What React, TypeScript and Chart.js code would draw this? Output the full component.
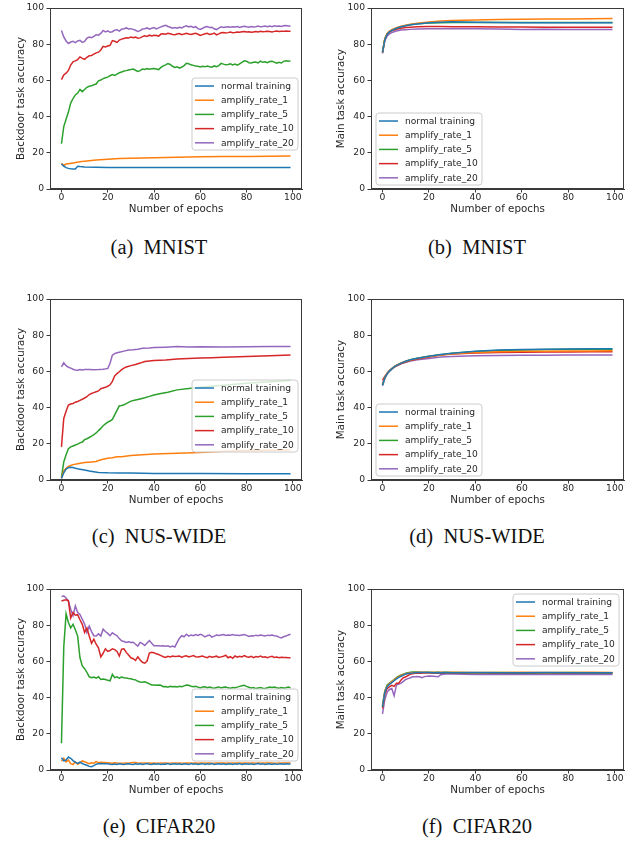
import React, { useEffect, useRef } from 'react';
import { Chart, registerables } from 'chart.js';
Chart.register(...registerables);

// ---------- shared ----------
const LABELS = ['normal training', 'amplify_rate_1', 'amplify_rate_5', 'amplify_rate_10', 'amplify_rate_20'];
const COLORS = ['#1f77b4', '#ff7f0e', '#2ca02c', '#d62728', '#9467bd'];
const X_TICKS = [0, 20, 40, 60, 80, 100];
const Y_TICKS = [0, 20, 40, 60, 80, 100];

const EP_ALL = [0,1,2,3,4,5,6,7,8,9,10,11,12,13,14,15,16,17,18,19,20,21,22,23,24,25,26,27,28,29,30,31,32,33,34,35,36,37,38,39,40,41,42,43,44,45,46,47,48,49,50,51,52,53,54,55,56,57,58,59,60,61,62,63,64,65,66,67,68,69,70,71,72,73,74,75,76,77,78,79,80,81,82,83,84,85,86,87,88,89,90,91,92,93,94,95,96,97,98,99];
const EP_SMOOTH = [0,1,2,3,4,5,6,8,10,12,15,20,25,30,40,50,60,70,80,90,99];

// ---------- (a) MNIST backdoor ----------
const EP_A_NORMAL = [0,1,2,3,4,5,6,7,8,10,15,20,40,60,80,99];
const A_NORMAL = [14.0,12.6,11.8,11.4,11.2,11.1,11.0,12.6,12.4,12.2,12.0,11.9,11.9,11.9,11.9,11.9];
const EP_A_RATE1 = [0,1,2,3,5,8,10,15,20,25,30,40,50,60,70,80,90,99];
const A_RATE1 = [14.2,13.0,13.8,14.0,14.4,15.0,15.4,16.0,16.5,16.8,17.0,17.3,17.6,17.8,17.9,18.0,18.1,18.3];
const A_RATE5 = [
  25.0,34.5,38.5,42.5,47.5,50.0,52.0,53.0,55.0,53.8,
  55.0,56.2,56.8,57.0,57.6,58.0,59.8,60.2,61.0,61.5,
  61.8,62.6,63.2,62.8,63.5,64.2,64.6,65.2,65.4,65.8,
  66.0,66.3,65.6,65.0,65.4,66.3,66.0,66.5,66.2,66.4,
  66.6,66.3,66.0,67.2,68.0,68.6,69.3,68.8,67.8,67.2,
  67.5,66.8,67.4,68.2,69.5,69.2,68.6,68.3,68.0,67.8,
  67.4,67.8,67.5,68.0,67.6,67.3,68.0,67.6,68.2,69.4,
  69.0,68.6,68.8,69.2,68.5,69.0,68.4,69.2,70.0,70.8,
  70.6,69.8,69.6,70.0,70.2,69.7,70.6,70.0,70.3,69.8,
  70.4,70.6,70.1,69.5,70.0,69.6,70.5,70.9,70.6,70.8];
const A_RATE10 = [
  60.4,63.0,64.0,65.5,68.5,70.3,70.8,71.5,73.0,72.2,
  71.6,72.8,73.6,73.8,74.5,75.2,75.6,76.8,78.8,78.5,
  79.0,79.4,82.0,81.6,81.0,82.3,82.8,83.2,83.6,83.4,
  84.0,83.6,83.9,83.3,83.5,84.2,84.6,84.3,85.0,84.6,
  85.0,84.8,84.5,85.6,85.8,85.5,86.0,85.8,85.4,85.2,
  85.6,85.9,85.3,85.7,86.0,85.6,85.4,85.8,86.1,85.5,
  84.8,85.3,85.8,86.0,85.4,85.6,86.1,85.2,85.7,86.3,
  86.5,86.2,86.4,86.7,86.3,86.5,86.8,86.6,86.9,87.0,
  86.7,86.9,86.6,86.8,87.0,86.8,87.1,86.9,87.0,87.2,
  87.0,86.8,87.1,87.3,87.0,87.2,87.1,87.3,87.2,87.2];
const A_RATE20 = [
  87.6,84.0,81.8,80.4,81.2,81.6,80.9,81.8,82.2,81.0,
  81.5,83.4,84.0,83.6,84.3,85.2,85.0,86.0,87.6,86.8,
  87.4,86.6,86.9,87.8,88.0,87.2,88.3,88.6,89.0,88.4,
  88.6,88.2,87.7,87.0,87.5,88.4,88.6,89.0,88.3,88.8,
  89.2,88.5,89.0,89.6,90.1,90.4,89.8,89.4,88.9,89.2,
  88.8,89.3,89.0,89.7,90.2,89.6,89.9,89.3,89.7,88.6,
  88.2,88.8,89.5,89.8,89.2,89.4,88.5,88.1,88.9,89.6,
  89.3,89.5,89.7,89.4,89.6,89.5,89.8,89.3,89.7,89.9,
  89.6,89.4,89.8,89.5,89.7,90.0,89.6,89.8,90.1,89.7,
  90.0,89.7,90.2,89.9,90.1,89.8,90.2,90.3,90.1,90.0];

// ---------- (b) MNIST main ----------
const B_NORMAL = [75.5,82.5,85.5,86.8,87.6,88.2,88.8,89.6,90.2,90.7,91.2,91.8,92.2,92.4,92.2,92.0,91.9,91.9,91.9,91.9,91.9];
const B_RATE1 = [75.5,83.0,86.0,87.2,88.0,88.6,89.1,89.9,90.5,91.0,91.6,92.3,92.8,93.1,93.4,93.6,93.8,93.9,94.0,94.1,94.2];
const B_RATE5 = [75.5,83.0,85.8,87.0,87.8,88.4,88.9,89.7,90.3,90.8,91.3,91.7,91.9,92.0,92.0,92.0,92.0,92.0,92.0,92.0,92.0];
const B_RATE10 = [75.5,82.8,85.5,86.7,87.4,87.9,88.3,88.8,89.2,89.4,89.6,89.8,89.8,89.7,89.6,89.5,89.5,89.4,89.4,89.4,89.4];
const B_RATE20 = [75.0,82.0,84.5,85.7,86.4,86.9,87.3,87.8,88.0,88.2,88.4,88.5,88.6,88.6,88.5,88.4,88.2,88.3,88.1,88.2,88.1];

// ---------- (c) NUS-WIDE backdoor ----------
const EP_C_NORMAL = [0,1,2,3,4,5,6,7,8,10,12,14,16,20,25,30,40,60,80,99];
const C_NORMAL = [0.8,4.0,6.0,6.8,7.0,6.9,6.5,6.2,6.0,5.5,5.0,4.6,4.2,4.0,3.9,3.8,3.6,3.6,3.5,3.5];
const EP_C_RATE1 = [0,1,2,3,4,5,7,10,13,15,16,18,20,22,24,26,30,35,40,50,60,70,80,90,99];
const C_RATE1 = [1.0,5.0,6.5,7.5,8.0,8.5,9.0,9.7,10.0,10.2,10.8,11.5,12.0,12.3,12.8,12.8,13.5,13.9,14.3,14.8,15.2,15.9,16.3,16.5,16.6];
const EP_C_RATE5 = [0,1,2,3,4,5,6,7,8,9,10,11,12,13,14,15,16,17,18,19,20,21,22,23,24,25,26,27,28,30,32,34,36,38,40,43,46,50,55,60,70,80,90,99];
const C_RATE5 = [1.5,10.0,14.0,17.3,18.3,18.8,19.3,19.8,20.5,21.0,22.3,22.8,23.5,24.2,25.0,26.0,27.3,28.5,30.0,31.0,32.0,32.6,33.5,36.0,38.5,41.0,41.2,41.6,42.2,43.6,44.2,44.8,45.4,46.2,47.0,47.8,48.5,49.8,50.5,51.3,52.4,53.4,54.3,55.0];
const EP_C_RATE10 = [0,1,2,3,4,5,6,7,8,9,10,11,12,13,14,15,16,17,18,19,20,21,22,23,24,25,26,27,28,30,32,34,36,38,40,45,50,55,60,65,70,80,90,99];
const C_RATE10 = [18.3,34.0,38.0,41.4,42.0,42.3,43.0,43.4,44.0,44.6,45.3,46.0,47.2,47.8,48.3,48.8,49.2,50.4,50.8,51.2,51.8,52.6,54.5,57.5,58.8,59.8,61.0,61.8,62.4,63.2,63.8,64.6,65.5,65.8,66.0,66.3,66.8,67.2,67.4,67.6,67.8,68.2,68.6,69.0];
const EP_C_RATE20 = [0,1,2,3,4,5,6,7,8,9,10,12,14,16,18,19,20,21,22,23,24,25,27,29,31,33,35,38,40,45,50,55,60,70,80,90,99];
const C_RATE20 = [62.5,64.8,63.2,62.3,61.8,61.2,60.8,60.6,61.0,60.8,61.0,61.1,60.9,61.0,61.2,61.4,61.6,64.5,69.0,69.8,70.3,70.6,71.2,71.8,72.0,72.3,72.8,73.0,73.2,73.4,73.7,73.5,73.6,73.5,73.6,73.7,73.8];

// ---------- (d) NUS-WIDE main ----------
const D_NORMAL = [52.5,56.5,58.8,60.3,61.5,62.5,63.3,64.6,65.6,66.4,67.3,68.4,69.3,70.1,71.2,71.8,72.1,72.3,72.4,72.5,72.5];
const D_RATE1 = [53.0,56.8,59.0,60.5,61.6,62.6,63.4,64.7,65.6,66.3,67.2,68.3,69.1,69.8,70.5,70.9,71.1,71.2,71.3,71.3,71.4];
const D_RATE5 = [52.5,56.5,58.8,60.3,61.5,62.5,63.3,64.6,65.6,66.4,67.3,68.4,69.2,70.0,71.0,71.6,71.9,72.1,72.2,72.3,72.3];
const D_RATE10 = [55.0,57.2,59.0,60.4,61.5,62.4,63.1,64.3,65.2,66.0,66.9,68.0,69.0,69.6,70.2,70.5,70.6,70.7,70.7,70.8,70.8];
const D_RATE20 = [52.0,56.0,58.5,60.0,61.2,62.2,63.0,64.2,65.1,65.8,66.5,67.2,67.9,68.3,68.6,68.8,68.9,68.9,69.0,69.0,69.0];

// ---------- (e) CIFAR20 backdoor ----------
const E_NORMAL = [
  6.8,5.0,5.5,7.2,6.5,5.2,4.2,3.6,4.4,3.6,
  3.0,2.6,2.0,1.8,2.4,3.2,3.4,3.6,3.5,3.4,
  3.5,3.2,3.0,3.3,3.1,3.4,3.2,3.0,3.3,3.5,
  3.2,3.0,3.4,3.2,3.5,3.1,3.3,3.6,3.2,3.0,
  3.4,3.2,3.5,3.1,3.3,3.2,3.6,3.0,3.3,3.4,
  3.2,3.5,3.1,3.4,3.3,3.0,3.6,3.2,3.4,3.1,
  3.3,3.5,3.0,3.4,3.2,3.6,3.1,3.3,3.5,3.2,
  3.4,3.0,3.3,3.5,3.1,3.4,3.2,3.6,3.0,3.3,
  3.5,3.2,3.4,3.1,3.3,3.6,3.2,3.4,3.0,3.3,
  3.5,3.1,3.4,3.2,3.3,3.5,3.2,3.4,3.3,3.3];
const E_RATE1 = [
  5.0,6.5,4.5,5.5,3.5,3.0,4.5,3.2,4.0,5.0,
  4.6,4.0,3.5,4.0,3.8,4.6,4.0,4.3,4.2,4.1,
  4.0,3.9,3.8,4.0,3.9,3.8,3.7,3.8,3.9,3.8,
  4.0,4.2,4.1,3.9,3.8,3.8,3.9,3.8,3.8,3.7,
  3.8,3.7,3.8,3.9,3.8,3.8,3.7,3.8,3.9,3.8,
  3.8,3.9,3.8,3.7,3.8,3.8,3.9,3.8,3.8,3.7,
  3.8,3.8,3.9,3.8,3.8,3.7,3.8,3.9,3.8,3.8,
  3.8,3.7,3.8,3.8,3.9,3.8,3.8,3.8,3.7,3.8,
  3.8,3.9,3.8,3.8,3.7,3.8,3.8,3.9,3.8,3.8,
  3.8,3.8,3.7,3.8,3.9,3.8,3.8,3.8,3.8,3.8];
const E_RATE5 = [
  14.8,68.0,86.3,81.5,78.5,80.5,77.5,74.0,62.0,57.5,
  56.0,54.0,51.5,51.0,51.3,50.8,51.5,50.0,50.3,50.0,
  49.6,49.3,52.8,51.0,51.5,50.8,51.3,51.0,50.8,50.5,
  50.4,50.0,49.8,49.0,48.6,48.5,48.8,48.2,47.6,47.0,
  47.0,46.8,46.9,46.8,46.0,46.1,45.8,46.2,46.0,46.1,
  45.9,46.3,46.0,46.5,47.0,46.8,46.3,46.0,46.3,45.8,
  45.3,45.9,46.0,45.5,45.8,45.4,45.2,45.6,45.9,45.3,
  45.7,45.9,45.4,45.2,45.6,45.5,45.8,46.2,46.5,46.8,
  46.2,45.7,45.3,45.6,45.0,45.3,45.6,45.2,45.0,45.4,
  45.8,45.6,45.9,45.5,45.2,45.6,45.3,45.5,45.8,45.5];
const E_RATE10 = [
  93.4,93.8,94.0,93.5,84.0,87.0,85.5,85.8,83.0,80.5,
  76.0,78.5,74.0,70.0,72.3,69.5,67.5,62.5,64.5,67.0,
  65.5,66.0,67.0,66.5,65.5,63.0,66.8,67.0,65.0,63.5,
  62.0,61.5,60.5,62.5,60.8,59.5,59.0,60.2,64.6,65.0,
  64.8,64.2,63.8,63.2,62.6,62.2,62.8,62.5,63.0,62.7,
  62.8,63.0,62.2,62.9,63.1,62.5,62.8,63.2,62.6,62.4,
  62.7,63.0,62.4,62.1,62.8,62.3,62.6,62.9,62.2,62.5,
  62.8,63.4,62.0,62.6,61.7,63.0,62.3,62.8,62.5,63.2,
  62.6,62.3,62.8,62.1,62.7,62.4,63.0,62.3,62.6,62.1,
  62.5,62.8,62.2,62.4,62.0,62.3,62.1,62.2,62.0,62.0];
const E_RATE20 = [
  95.8,96.2,95.0,93.4,88.8,85.3,90.7,87.0,86.0,83.3,
  80.6,76.0,79.5,76.5,74.2,74.0,75.2,74.0,77.8,76.5,
  75.5,74.2,75.8,75.0,74.2,72.6,71.4,71.0,70.5,70.8,
  70.4,70.6,69.5,68.5,70.5,69.8,68.8,70.2,71.5,70.0,
  68.7,68.6,68.7,68.5,68.6,68.4,68.6,68.0,68.5,68.0,
  70.5,72.8,74.2,73.6,75.0,74.0,74.6,74.2,74.8,74.3,
  75.0,74.5,73.5,74.2,74.6,73.4,74.0,74.6,74.3,74.6,
  74.8,74.3,74.6,74.5,74.8,74.4,74.5,74.3,74.6,74.8,
  74.4,73.8,74.2,74.0,74.5,74.2,74.6,74.3,74.0,74.5,
  74.3,74.6,74.2,74.0,73.4,73.0,73.6,74.0,74.6,75.0];

// ---------- (f) CIFAR20 main ----------
const EP_F = [0,1,2,3,4,5,6,7,8,9,10,11,12,13,14,15,16,17,18,20,22,24,25,27,30,40,50,60,70,80,90,99];
const F_NORMAL = [35.0,43.0,46.0,47.3,48.3,49.3,50.3,51.2,51.8,52.4,53.0,53.3,53.5,53.6,53.8,53.9,53.9,53.9,53.9,53.9,53.8,53.9,53.8,53.9,53.8,53.9,53.8,53.8,53.9,53.8,53.8,53.8];
const F_RATE1 = [35.5,43.5,46.5,47.8,48.8,49.8,50.8,51.6,52.2,52.8,53.2,53.5,53.7,53.8,53.9,54.0,54.0,53.9,54.0,53.9,54.0,53.9,54.0,53.9,54.0,53.9,53.9,54.0,53.9,53.9,54.0,53.9];
const F_RATE5 = [35.0,43.5,47.0,48.0,49.0,50.0,51.0,51.8,52.5,53.0,53.5,53.8,54.0,54.1,54.2,54.1,54.0,54.0,54.0,54.0,53.9,54.0,53.9,54.0,53.9,53.8,53.9,53.8,53.8,53.9,53.8,53.8];
const F_RATE10 = [34.0,42.0,45.0,46.0,46.8,46.2,48.0,48.0,49.8,51.0,51.5,52.2,53.0,53.2,53.4,53.5,53.6,53.5,53.6,53.6,53.5,53.6,53.5,53.6,53.5,53.6,53.5,53.5,53.6,53.5,53.6,53.5];
const F_RATE20 = [31.0,39.0,43.0,44.5,45.0,41.0,47.0,47.5,48.0,49.0,50.0,50.5,51.0,51.5,51.5,51.6,51.5,51.0,51.6,52.0,51.8,51.5,52.6,53.0,53.0,52.8,52.7,52.8,52.7,52.8,52.7,52.8];

type Series = [number[], number[]];
interface PanelCfg {
  caption: string;
  yTitle: string;
  series: Series[];
  legendDx: number;
  legendDy: number;
}

const PANELS: PanelCfg[] = [
  { caption: '(a)  MNIST', yTitle: 'Backdoor task accuracy', legendDx: 142, legendDy: 70,
    series: [[EP_A_NORMAL, A_NORMAL], [EP_A_RATE1, A_RATE1], [EP_ALL, A_RATE5], [EP_ALL, A_RATE10], [EP_ALL, A_RATE20]] },
  { caption: '(b)  MNIST', yTitle: 'Main task accuracy', legendDx: 5, legendDy: 105,
    series: [[EP_SMOOTH, B_NORMAL], [EP_SMOOTH, B_RATE1], [EP_SMOOTH, B_RATE5], [EP_SMOOTH, B_RATE10], [EP_SMOOTH, B_RATE20]] },
  { caption: '(c)  NUS-WIDE', yTitle: 'Backdoor task accuracy', legendDx: 142, legendDy: 81,
    series: [[EP_C_NORMAL, C_NORMAL], [EP_C_RATE1, C_RATE1], [EP_C_RATE5, C_RATE5], [EP_C_RATE10, C_RATE10], [EP_C_RATE20, C_RATE20]] },
  { caption: '(d)  NUS-WIDE', yTitle: 'Main task accuracy', legendDx: 5, legendDy: 105,
    series: [[EP_SMOOTH, D_NORMAL], [EP_SMOOTH, D_RATE1], [EP_SMOOTH, D_RATE5], [EP_SMOOTH, D_RATE10], [EP_SMOOTH, D_RATE20]] },
  { caption: '(e)  CIFAR20', yTitle: 'Backdoor task accuracy', legendDx: 142, legendDy: 100,
    series: [[EP_ALL, E_NORMAL], [EP_ALL, E_RATE1], [EP_ALL, E_RATE5], [EP_ALL, E_RATE10], [EP_ALL, E_RATE20]] },
  { caption: '(f)  CIFAR20', yTitle: 'Main task accuracy', legendDx: 142, legendDy: 5,
    series: [[EP_F, F_NORMAL], [EP_F, F_RATE1], [EP_F, F_RATE5], [EP_F, F_RATE10], [EP_F, F_RATE20]] },
];

const CANVAS_W = 318;
const CANVAS_H = 225;
const ROW_TOPS = [0, 291, 581];
const CAPTION_TOPS = [235, 524, 814];
const FONT = '"DejaVu Sans", sans-serif';

const framePlugin = {
  id: 'mplFrame',
  afterDatasetsDraw(chart: any) {
    const { ctx, chartArea: a } = chart;
    ctx.save();
    ctx.strokeStyle = '#3a3a3a';
    ctx.lineWidth = 1;
    ctx.strokeRect(Math.round(a.left) + 0.5, Math.round(a.top) + 0.5, Math.round(a.right - a.left) - 1, Math.round(a.bottom - a.top) - 1);
    ctx.restore();
  },
};

const legendPlugin = {
  id: 'mplLegend',
  afterDatasetsDraw(chart: any, _args: any, opts: any) {
    const { ctx, chartArea: a } = chart;
    const bx = a.left + opts.dx;
    const by = a.top + opts.dy;
    const w = 106, h = 72, r = 3;
    ctx.save();
    ctx.beginPath();
    ctx.moveTo(bx + r, by);
    ctx.arcTo(bx + w, by, bx + w, by + h, r);
    ctx.arcTo(bx + w, by + h, bx, by + h, r);
    ctx.arcTo(bx, by + h, bx, by, r);
    ctx.arcTo(bx, by, bx + w, by, r);
    ctx.closePath();
    ctx.fillStyle = 'rgba(255,255,255,0.8)';
    ctx.fill();
    ctx.strokeStyle = '#cccccc';
    ctx.lineWidth = 1;
    ctx.stroke();
    ctx.font = '9.1px ' + FONT;
    ctx.textBaseline = 'middle';
    ctx.textAlign = 'left';
    chart.data.datasets.forEach((ds: any, i: number) => {
      const cy = by + 8 + i * 14.2;
      ctx.strokeStyle = ds.borderColor;
      ctx.lineWidth = 1.5;
      ctx.beginPath();
      ctx.moveTo(bx + 3, cy);
      ctx.lineTo(bx + 22, cy);
      ctx.stroke();
      ctx.fillStyle = '#262626';
      ctx.fillText(ds.label, bx + 29, cy + 0.5);
    });
    ctx.restore();
  },
};

function Panel({ cfg, left, top }: { cfg: PanelCfg; left: number; top: number }) {
  const ref = useRef<HTMLCanvasElement>(null);
  useEffect(() => {
    const isRight = left > 0;
    const areaLeft = isRight ? 53 : 50;
    const areaRight = isRight ? 306 : 302;
    const areaTop = 7;
    const areaBottom = 189;
    const titleFont = { family: FONT, size: 10.3 };
    const tickFont = { family: FONT, size: 9.2 };
    const chart = new Chart(ref.current as HTMLCanvasElement, {
      type: 'line',
      data: {
        datasets: cfg.series.map(([xs, ys], i) => ({
          label: LABELS[i],
          data: xs.map((x, j) => ({ x, y: ys[j] })).filter((p) => p.y !== undefined),
          borderColor: COLORS[i],
          backgroundColor: COLORS[i],
          borderWidth: 1.5,
          pointRadius: 0,
          tension: 0,
          fill: false,
        })),
      },
      options: {
        responsive: false,
        animation: false,
        events: [],
        layout: { padding: { left: 0, top: areaTop, right: CANVAS_W - areaRight, bottom: 0 } },
        plugins: {
          legend: { display: false },
          tooltip: { enabled: false },
          mplLegend: { dx: cfg.legendDx, dy: cfg.legendDy },
        } as any,
        scales: {
          x: {
            type: 'linear',
            min: -4.95,
            max: 103.95,
            afterBuildTicks: (s: any) => { s.ticks = X_TICKS.map((v) => ({ value: v })); },
            afterFit: (s: any) => { s.height = CANVAS_H - areaBottom; },
            ticks: { font: tickFont, color: '#262626', padding: 0, maxRotation: 0, autoSkip: false },
            grid: { display: true, drawOnChartArea: false, drawTicks: true, tickLength: 3.5, color: '#3a3a3a', lineWidth: 1 },
            border: { display: true, color: '#3a3a3a', width: 1 },
            title: { display: true, text: 'Number of epochs', font: titleFont, color: '#262626', padding: { top: 0, bottom: 9.8 } },
          },
          y: {
            type: 'linear',
            min: 0,
            max: 100,
            afterBuildTicks: (s: any) => { s.ticks = Y_TICKS.map((v) => ({ value: v })); },
            afterFit: (s: any) => { s.width = areaLeft; },
            ticks: { font: tickFont, color: '#262626', padding: 2.5, autoSkip: false },
            grid: { display: true, drawOnChartArea: false, drawTicks: true, tickLength: 3.5, color: '#3a3a3a', lineWidth: 1 },
            border: { display: true, color: '#3a3a3a', width: 1 },
            title: { display: true, text: cfg.yTitle, font: titleFont, color: '#262626', padding: { top: isRight ? 17 : 15.5, bottom: 0 } },
          },
        },
      } as any,
      plugins: [framePlugin, legendPlugin],
    });
    return () => chart.destroy();
  }, [cfg, left, top]);
  return (
    <canvas
      ref={ref}
      width={CANVAS_W}
      height={CANVAS_H}
      style={{ position: 'absolute', left, top, width: CANVAS_W, height: CANVAS_H }}
    />
  );
}

export default function App() {
  return (
    <div style={{ position: 'absolute', left: 0, top: 0, width: 636, height: 841, background: '#ffffff', overflow: 'hidden' }}>
      {PANELS.map((p, i) => {
        const col = i % 2;
        const row = Math.floor(i / 2);
        return (
          <React.Fragment key={i}>
            <Panel cfg={p} left={col * CANVAS_W} top={ROW_TOPS[row]} />
            <div
              style={{
                position: 'absolute',
                left: col * CANVAS_W,
                top: CAPTION_TOPS[row],
                width: CANVAS_W,
                height: 24,
                lineHeight: '24px',
                textAlign: 'center',
                whiteSpace: 'pre',
                fontFamily: '"Liberation Serif", "Times New Roman", serif',
                fontSize: 20.5,
                color: '#111',
              }}
            >
              {p.caption}
            </div>
          </React.Fragment>
        );
      })}
    </div>
  );
}
